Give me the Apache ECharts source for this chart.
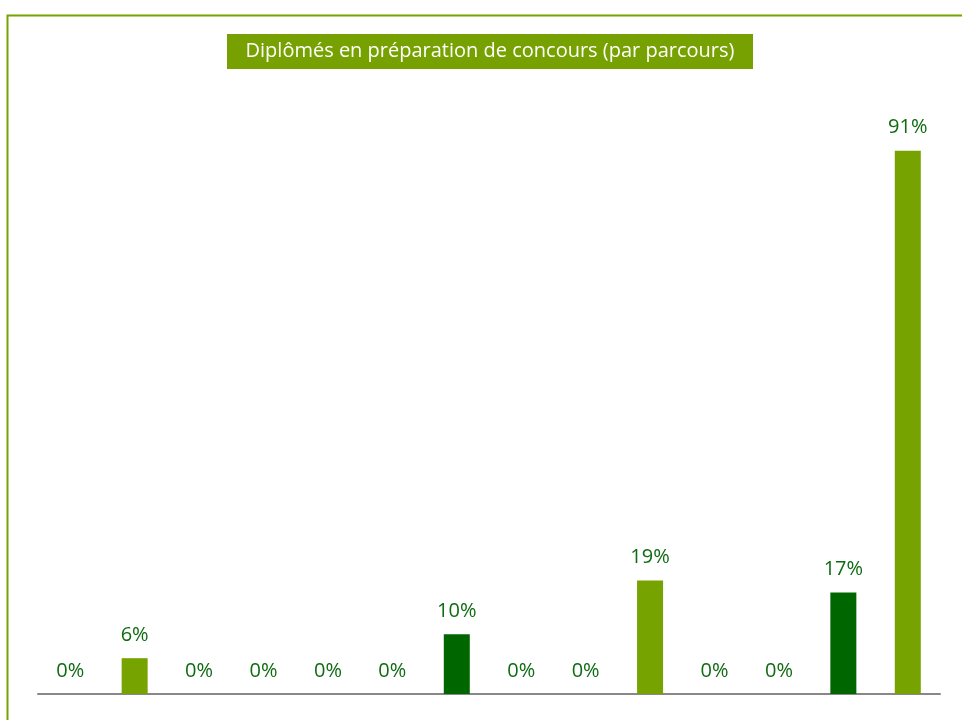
<!DOCTYPE html>
<html><head><meta charset="utf-8">
<script src="https://cdn.jsdelivr.net/npm/echarts@6/dist/echarts.min.js"></script>
<style>html,body{margin:0;padding:0;background:#fff}#c{width:962px;height:720px}</style>
</head><body><div id="c"></div>
<script>
const titleText = 'Diplômés en préparation de concours (par parcours)';
const categories = ['P1','P2','P3','P4','P5','P6','P7','P8','P9','P10','P11','P12','P13','P14'];
const values = [0, 6, 0, 0, 0, 0, 10, 0, 0, 19, 0, 0, 17, 91];
const barColors = ['#76A300','#76A300','#76A300','#76A300','#76A300','#76A300','#006600','#76A300','#76A300','#76A300','#76A300','#76A300','#006600','#76A300'];

const chart = echarts.init(document.getElementById('c'));
chart.setOption({
  animation: false,
  backgroundColor: '#fff',
  graphic: [{
    type: 'rect', left: 5, top: 13, z: -1,
    shape: { width: 980, height: 740 },
    style: { fill: 'none', stroke: '#76A300', lineWidth: 2 }
  }, {
    type: 'rect', left: 227, top: 34,
    shape: { width: 526, height: 35 },
    style: { fill: '#76A100' }
  }, {
    type: 'text', x: 490, y: 51.5, z: 10,
    style: {
      text: titleText, fill: '#fff', align: 'center', verticalAlign: 'middle',
      fontFamily: 'Open Sans', fontSize: 20
    }
  }],
  grid: { left: 38, right: 22, top: 97, bottom: 26, containLabel: false },
  xAxis: {
    type: 'category', data: categories,
    axisLine: { lineStyle: { color: '#888', width: 2 } },
    axisTick: { show: false }, axisLabel: { show: false }
  },
  yAxis: { type: 'value', min: 0, max: 100, show: false, splitLine: { show: false } },
  series: [{
    type: 'bar', barWidth: 26,
    data: values.map((v, i) => ({ value: v, itemStyle: { color: barColors[i] } })),
    label: {
      show: true, position: 'top', distance: 13,
      formatter: p => p.value + '%',
      color: '#0F6B12', fontFamily: 'Open Sans', fontSize: 20
    }
  }]
});
</script></body></html>
